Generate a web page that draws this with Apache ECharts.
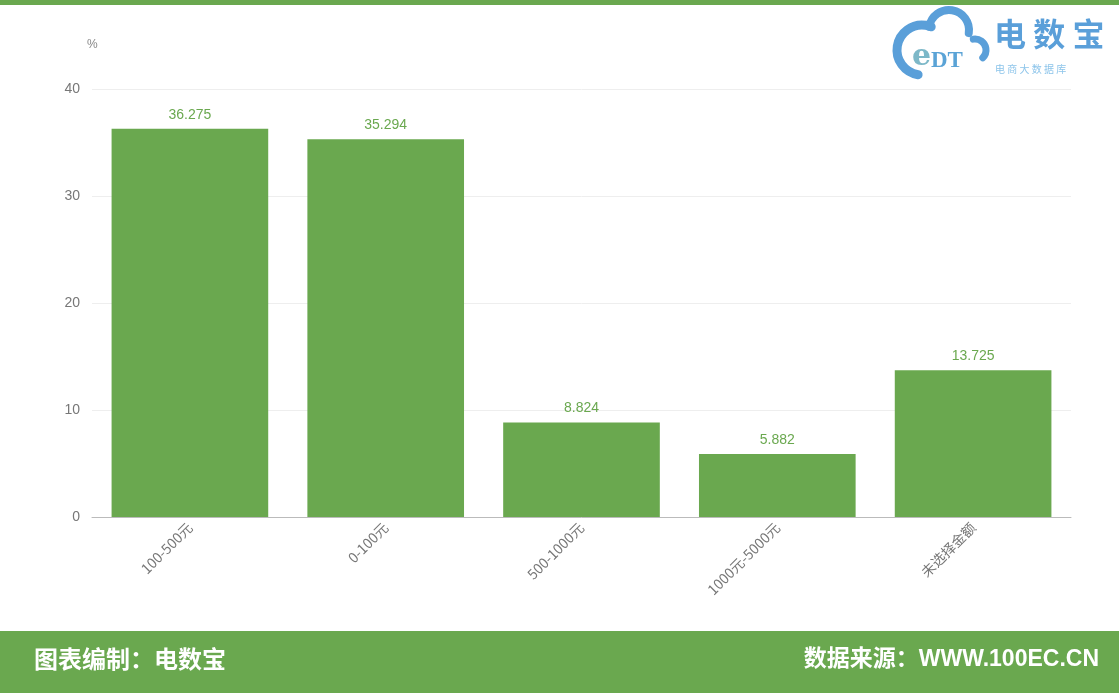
<!DOCTYPE html>
<html>
<head>
<meta charset="utf-8">
<script src="https://cdn.jsdelivr.net/npm/echarts@6/dist/echarts.min.js"></script>
<style>
  html, body { margin: 0; padding: 0; background: #fff; }
  #chart { width: 1119px; height: 693px; }
</style>
</head>
<body>
<div id="chart"></div>
<script>
// Price bands and share of respondents (%)
const categories = ['100-500元', '0-100元', '500-1000元', '1000元-5000元', '未选择金额'];
const shares = [36.275, 35.294, 8.824, 5.882, 13.725];
const yTicks = [0, 10, 20, 30, 40];

const GREEN = '#6aa84f';
const BLUE = '#5a9fd9';
const FONT = '"Noto Sans CJK SC", "Noto Sans", sans-serif';
const chart = echarts.init(document.getElementById('chart'));

chart.setOption({
  backgroundColor: '#ffffff',
  animation: false,
  grid: { left: 92, right: 48, top: 89, bottom: 176 },
  xAxis: {
    type: 'category',
    data: categories,
    axisLine: { lineStyle: { color: '#bbbbbb' } },
    axisTick: { show: false },
    axisLabel: {
      rotate: 45,
      color: '#777777',
      fontSize: 14,
      fontFamily: FONT,
      margin: 8
    }
  },
  yAxis: {
    type: 'value',
    min: yTicks[0],
    max: yTicks[yTicks.length - 1],
    interval: 10,
    name: '%',
    nameGap: 38,
    nameTextStyle: { color: '#888888', fontSize: 12, align: 'left', padding: [0, 0, 0, -5] },
    axisLine: { show: false },
    axisTick: { show: false },
    splitLine: { lineStyle: { color: '#eeeeee' } },
    axisLabel: { color: '#777777', fontSize: 14, margin: 12 }
  },
  series: [{
    type: 'bar',
    data: shares,
    barWidth: '80%',
    itemStyle: { color: GREEN },
    label: {
      show: true,
      position: 'top',
      distance: 7,
      color: GREEN,
      fontSize: 14
    }
  }],
  graphic: [
    // top stripe
    { type: 'rect', left: 0, top: 0, shape: { width: 1119, height: 5 }, style: { fill: GREEN } },
    // footer band
    { type: 'rect', left: 0, top: 631, shape: { width: 1119, height: 62 }, style: { fill: GREEN } },
    {
      type: 'text', left: 34, top: 647,
      style: { text: '图表编制：电数宝', fill: '#ffffff', font: 'bold 24px ' + FONT }
    },
    {
      type: 'text', right: 20, top: 648,
      style: { text: '数据来源：WWW.100EC.CN', fill: '#ffffff', font: 'bold 23px "Liberation Sans", "Noto Sans CJK SC", sans-serif' }
    },
    // brand mark: outlined cloud with "eDT" (absolute coordinates)
    { type: 'arc', shape: { cx: 922, cy: 50, r: 25, startAngle: Math.PI * 0.55, endAngle: Math.PI * 1.62, clockwise: true },
      style: { stroke: BLUE, lineWidth: 9, fill: 'none', lineCap: 'round' } },
    { type: 'arc', shape: { cx: 949, cy: 30, r: 20, startAngle: Math.PI * 1.05, endAngle: Math.PI * 2.05, clockwise: true },
      style: { stroke: BLUE, lineWidth: 8, fill: 'none', lineCap: 'round' } },
    { type: 'arc', shape: { cx: 975, cy: 50, r: 11, startAngle: Math.PI * 1.45, endAngle: Math.PI * 2.25, clockwise: true },
      style: { stroke: BLUE, lineWidth: 7, fill: 'none', lineCap: 'round' } },
    { type: 'text', x: 912, y: 42, style: { text: 'e', fill: '#7db8c8', font: 'bold 30px "DejaVu Serif", serif' } },
    { type: 'text', x: 931, y: 50, style: { text: 'DT', fill: '#5aa3d6', font: 'bold 23px "Liberation Serif", serif' } },
    {
      type: 'text', left: 994, top: 18,
      style: { text: '电 数 宝', fill: BLUE, font: 'bold 32px ' + FONT }
    },
    {
      type: 'text', left: 995, top: 64,
      style: { text: '电 商 大 数 据 库', fill: '#8cc4ea', font: '10px ' + FONT }
    }
  ]
});
</script>
</body>
</html>
